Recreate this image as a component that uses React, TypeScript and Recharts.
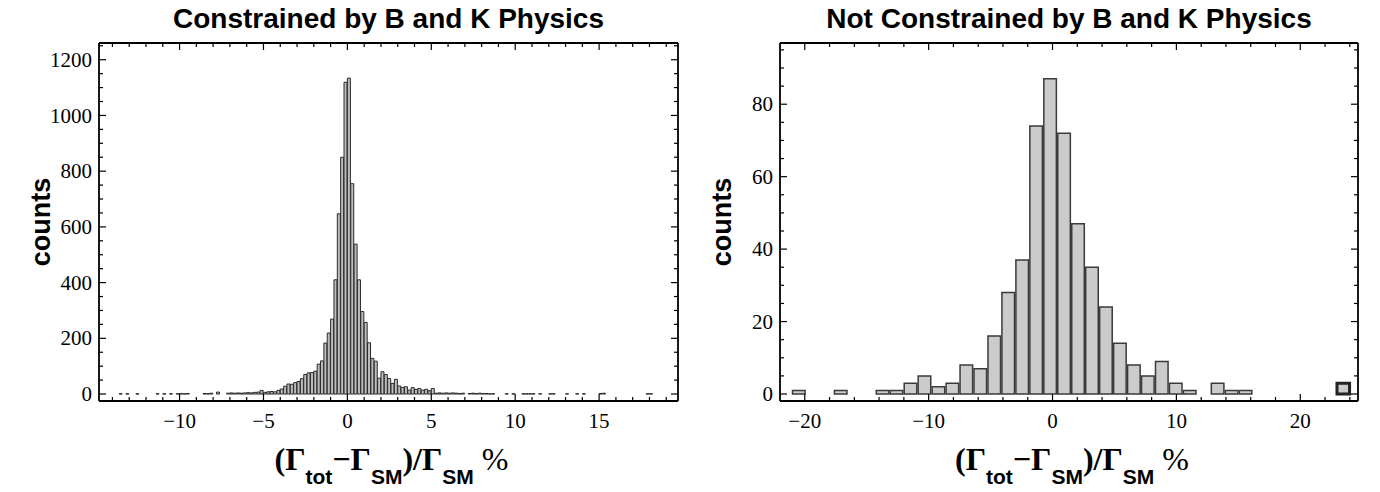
import React from 'react';
import { BarChart, Bar, XAxis, YAxis, Cell } from 'recharts';

const SERIF = "'Liberation Serif', 'Times New Roman', serif";
const SANS = "'Liberation Sans', Arial, Helvetica, sans-serif";

// ---------- Left panel: constrained ----------
const leftTitle = 'Constrained by B and K Physics';
const leftBinStart = -15.0;
const leftBinWidth = 0.2;
// counts per 0.2-wide bin, starting at -15.0 (5 bins per unit)
const leftCounts = [
  0, 0, 0, 0, 0, // -15
  0, 0, 1, 0, 1, // -14
  0, 0, 1, 0, 0, // -13
  0, 0, 0, 1, 0, // -12
  1, 0, 1, 0, 1, // -11
  2, 1, 2, 0, 0, // -10
  0, 0, 2, 1, 3, // -9
  0, 7, 0, 0, 3, // -8
  4, 3, 4, 3, 4, // -7
  5, 4, 6, 7, 13, // -6
  6, 8, 9, 8, 13, // -5
  18, 28, 36, 35, 41, // -4
  45, 55, 70, 76, 77, // -3
  82, 107, 119, 183, 219, // -2
  269, 410, 647, 850, 1119, // -1
  1134, 755, 538, 410, 296, // 0
  257, 184, 128, 118, 57, // 1
  80, 70, 56, 38, 53, // 2
  29, 24, 26, 14, 23, // 3
  17, 20, 14, 17, 12, // 4
  20, 3, 4, 3, 4, // 5
  3, 4, 3, 2, 3, // 6
  0, 2, 3, 2, 3, // 7
  2, 2, 1, 1, 0, // 8
  0, 0, 1, 0, 1, // 9
  0, 0, 1, 1, 1, // 10
  1, 0, 1, 0, 0, // 11
  1, 1, 0, 0, 0, // 12
  1, 0, 0, 1, 0, // 13
  1, 0, 0, 0, 0, // 14
  2, 3, 0, 0, 0, // 15
  0, 0, 0, 0, 0, // 16
  0, 0, 0, 0, 1, // 17
  1, 0, 0, 0, 0, // 18
];
const leftXTicks = [-14, -13, -12, -11, -10, -9, -8, -7, -6, -5, -4, -3, -2, -1, 0, 1, 2, 3, 4, 5, 6, 7, 8, 9, 10, 11, 12, 13, 14, 15, 16, 17, 18, 19];
const leftYTicks = [0, 50, 100, 150, 200, 250, 300, 350, 400, 450, 500, 550, 600, 650, 700, 750, 800, 850, 900, 950, 1000, 1050, 1100, 1150, 1200, 1250];
const leftXDomain = [-14.8, 19.7];
const leftYDomain = [-25, 1260];

// ---------- Right panel: not constrained ----------
const rightTitle = 'Not Constrained by B and K Physics';
const rightBinStart = -21.07;
const rightBinWidth = 1.127;
const rightCounts = [
  1, 0, 0, 1, 0, 0, 1, 1, 3, 5,
  2, 3, 8, 7, 16, 28, 37, 74, 87, 72,
  47, 35, 24, 14, 8, 5, 9, 3, 1, 0,
  3, 1, 1, 0, 0, 0, 0, 0, 0, 3,
];
const rightXTicks = [-20, -18, -16, -14, -12, -10, -8, -6, -4, -2, 0, 2, 4, 6, 8, 10, 12, 14, 16, 18, 20, 22, 24];
const rightYTicks = [0, 5, 10, 15, 20, 25, 30, 35, 40, 45, 50, 55, 60, 65, 70, 75, 80, 85, 90, 95];
const rightXDomain = [-22.0, 24.66];
const rightYDomain = [-1.93, 96.9];

const buildBins = (start: number, width: number, counts: number[]) =>
  counts.map((c, i) => ({ x: +(start + width * (i + 0.5)).toFixed(4), count: c }));

const fmt = (v: number) => (v < 0 ? '\u2212' + Math.abs(v) : String(v));

type PanelProps = {
  title: string;
  data: { x: number; count: number }[];
  xDomain: number[];
  yDomain: number[];
  xTicks: number[];
  yTicks: number[];
  xMajor: number;
  yMajor: number;
  binWidth: number;
  margin: { top: number; right: number; bottom: number; left: number };
  fill: string;
  stroke: string;
  strokeWidth: number;
  heavyLast?: boolean;
};

const W = 690;
const H = 492;

function Panel(p: PanelProps) {
  const plotW = W - p.margin.left - p.margin.right - 2;
  const barSize = (plotW / (p.xDomain[1] - p.xDomain[0])) * p.binWidth;
  const major = 7;
  const minor = 4;
  const tickStroke = { stroke: '#000', strokeWidth: 1.2 };

  const bottomTick = (t: any) => {
    const v = t.payload.value;
    const isMaj = v % p.xMajor === 0;
    return (
      <g>
        <line x1={t.x} x2={t.x} y1={t.y} y2={t.y - (isMaj ? major : minor)} {...tickStroke} />
        {isMaj && (
          <text x={t.x} y={t.y + 27} textAnchor="middle" fontFamily={SERIF} fontSize={21} fill="#000">
            {fmt(v)}
          </text>
        )}
      </g>
    );
  };
  const topTick = (t: any) => {
    const v = t.payload.value;
    const isMaj = v % p.xMajor === 0;
    return <line x1={t.x} x2={t.x} y1={t.y} y2={t.y + (isMaj ? major : minor)} {...tickStroke} />;
  };
  const leftTick = (t: any) => {
    const v = t.payload.value;
    const isMaj = v % p.yMajor === 0;
    return (
      <g>
        <line x1={t.x} x2={t.x + (isMaj ? major : minor)} y1={t.y} y2={t.y} {...tickStroke} />
        {isMaj && (
          <text x={t.x - 7} y={t.y} dy="0.34em" textAnchor="end" fontFamily={SERIF} fontSize={21} fill="#000">
            {fmt(v)}
          </text>
        )}
      </g>
    );
  };
  const rightTick = (t: any) => {
    const v = t.payload.value;
    const isMaj = v % p.yMajor === 0;
    return <line x1={t.x} x2={t.x - (isMaj ? major : minor)} y1={t.y} y2={t.y} {...tickStroke} />;
  };

  const titleLabel = (lp: any) => {
    const vb = lp.viewBox;
    return (
      <text x={vb.x + vb.width / 2} y={vb.y - 14} textAnchor="middle" fontFamily={SANS} fontWeight="bold" fontSize={28} fill="#000">
        {p.title}
      </text>
    );
  };
  const xLabel = (lp: any) => {
    const vb = lp.viewBox;
    const sub = { fontFamily: SANS, fontSize: 21 };
    return (
      <text x={vb.x + vb.width / 2 + 3} y={vb.y + 69} textAnchor="middle" fontFamily={SERIF} fontWeight="bold" fontSize={32} fill="#000">
        <tspan>(Γ</tspan>
        <tspan {...sub} dy={14}>tot</tspan>
        <tspan dy={-14}>−Γ</tspan>
        <tspan {...sub} dy={14}>SM</tspan>
        <tspan dy={-14}>)/Γ</tspan>
        <tspan {...sub} dy={14}>SM</tspan>
        <tspan dy={-14} fontWeight="normal"> %</tspan>
      </text>
    );
  };
  const yLabel = (lp: any) => {
    const vb = lp.viewBox;
    const cx = vb.x - 48;
    const cy = vb.y + vb.height / 2;
    return (
      <text x={cx} y={cy} transform={`rotate(-90, ${cx}, ${cy})`} textAnchor="middle" fontFamily={SANS} fontWeight="bold" fontSize={27} fill="#000">
        counts
      </text>
    );
  };

  const axisLine = { stroke: '#000', strokeWidth: 1.8 };

  return (
    <BarChart width={W} height={H} data={p.data} margin={p.margin} barCategoryGap={0} barGap={0}>
      <XAxis
        xAxisId="bottom"
        dataKey="x"
        type="number"
        domain={p.xDomain}
        allowDataOverflow
        ticks={p.xTicks}
        interval={0}
        height={1}
        tickSize={0}
        tickMargin={0}
        tickLine={false}
        axisLine={axisLine}
        tick={bottomTick}
        label={xLabel}
      />
      <XAxis
        xAxisId="top"
        orientation="top"
        dataKey="x"
        type="number"
        domain={p.xDomain}
        allowDataOverflow
        ticks={p.xTicks}
        interval={0}
        height={1}
        tickSize={0}
        tickMargin={0}
        tickLine={false}
        axisLine={axisLine}
        tick={topTick}
        label={titleLabel}
      />
      <YAxis
        yAxisId="left"
        type="number"
        domain={p.yDomain}
        allowDataOverflow
        ticks={p.yTicks}
        interval={0}
        width={1}
        tickSize={0}
        tickMargin={0}
        tickLine={false}
        axisLine={axisLine}
        tick={leftTick}
        label={yLabel}
      />
      <YAxis
        yAxisId="right"
        orientation="right"
        type="number"
        domain={p.yDomain}
        allowDataOverflow
        ticks={p.yTicks}
        interval={0}
        width={1}
        tickSize={0}
        tickMargin={0}
        tickLine={false}
        axisLine={axisLine}
        tick={rightTick}
      />
      <Bar
        xAxisId="bottom"
        yAxisId="left"
        dataKey="count"
        barSize={barSize}
        fill={p.fill}
        stroke={p.stroke}
        strokeWidth={p.strokeWidth}
        isAnimationActive={false}
      >
        {p.data.map((d, i) => (
          <Cell
            key={i}
            fill={p.fill}
            stroke={p.heavyLast && i === p.data.length - 1 ? '#222' : p.stroke}
            strokeWidth={p.heavyLast && i === p.data.length - 1 ? 3 : p.strokeWidth}
          />
        ))}
      </Bar>
    </BarChart>
  );
}

export default function App() {
  const leftData = buildBins(leftBinStart, leftBinWidth, leftCounts);
  const rightData = buildBins(rightBinStart, rightBinWidth, rightCounts);
  return (
    <div style={{ position: 'absolute', left: 0, top: 0, width: 1380, height: 492, background: '#fff' }}>
      <div style={{ position: 'absolute', left: 0, top: 0 }}>
        <Panel
          title={leftTitle}
          data={leftData}
          xDomain={leftXDomain}
          yDomain={leftYDomain}
          xTicks={leftXTicks}
          yTicks={leftYTicks}
          xMajor={5}
          yMajor={200}
          binWidth={leftBinWidth}
          margin={{ top: 42, right: 11, bottom: 90, left: 98 }}
          fill="#bdbdbd"
          stroke="#2a2a2a"
          strokeWidth={1}
        />
      </div>
      <div style={{ position: 'absolute', left: 690, top: 0 }}>
        <Panel
          title={rightTitle}
          data={rightData}
          xDomain={rightXDomain}
          yDomain={rightYDomain}
          xTicks={rightXTicks}
          yTicks={rightYTicks}
          xMajor={10}
          yMajor={20}
          binWidth={rightBinWidth}
          margin={{ top: 42, right: 21, bottom: 90, left: 89 }}
          fill="#cbcbcb"
          stroke="#3a3a3a"
          strokeWidth={1.5}
          heavyLast
        />
      </div>
    </div>
  );
}
